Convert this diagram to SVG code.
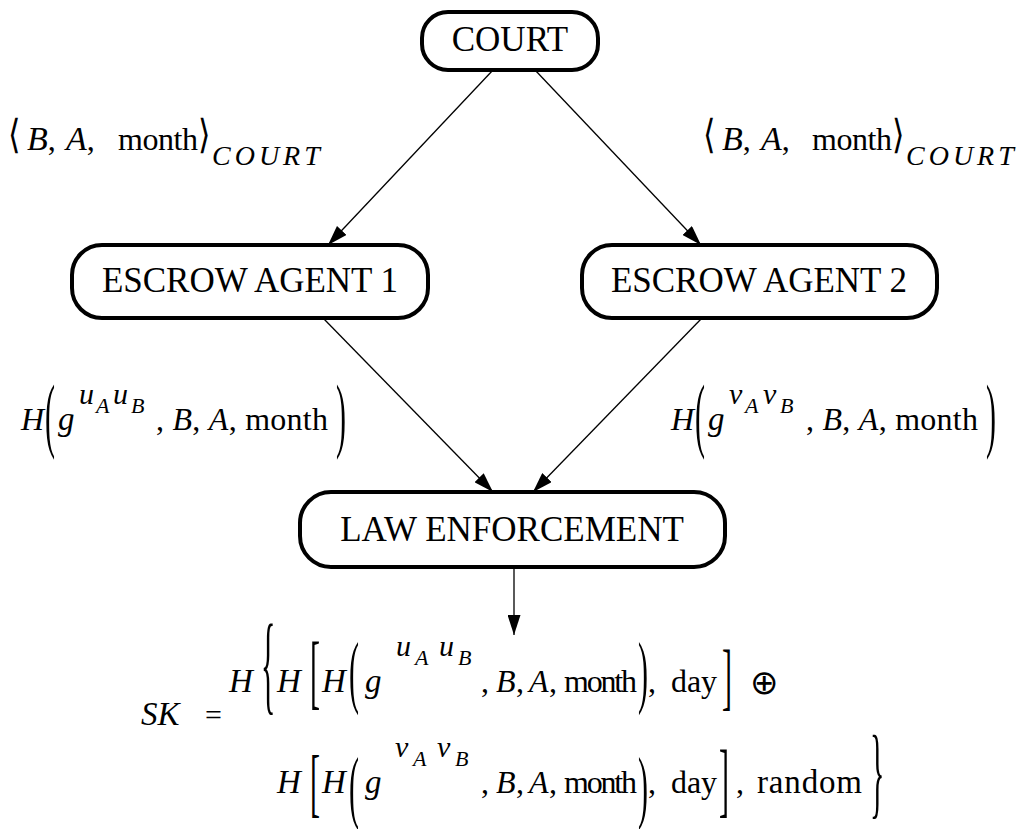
<svg xmlns="http://www.w3.org/2000/svg" width="1023" height="829" viewBox="0 0 1023 829">
  <style>
    .nd { fill: #fff; stroke: #000; stroke-width: 4; }
    .nt { font-family: "Liberation Serif", "Times New Roman", serif; font-size: 35px; text-anchor: middle; fill: #000; }
    .m { font-family: "Liberation Serif", "DejaVu Serif", serif; font-size: 32px; fill: #000; }
    .f { font-size: 33px; }
    .i { font-style: italic; }
    .sp { font-size: 30px; }
    .ss { font-size: 22px; }
    .sub { font-size: 28px; letter-spacing: 4px; }
    .dl { font-family: "Liberation Serif", serif; font-size: 30px; fill: #000; }
    .cn { stroke: #000; stroke-width: 1.3; fill: none; marker-end: url(#ah); }
  </style>
  <defs>
    <marker id="ah" viewBox="0 0 20 13" refX="20" refY="6.5" markerWidth="20" markerHeight="13" markerUnits="userSpaceOnUse" orient="auto">
      <path d="M0,0 L20,6.5 L0,13 z" fill="#000"/>
    </marker>
  </defs>
  <rect width="1023" height="829" fill="#fff"/>

  <!-- connectors -->
  <g id="connectors">
    <line class="cn" x1="493" y1="70" x2="328" y2="245"/>
    <line class="cn" x1="535" y1="70" x2="701" y2="245"/>
    <line class="cn" x1="323" y1="318" x2="493" y2="492"/>
    <line class="cn" x1="702" y1="318" x2="533" y2="492"/>
    <line class="cn" x1="514" y1="567" x2="514" y2="635"/>
  </g>

  <!-- nodes -->
  <g id="court">
    <rect class="nd" x="422" y="12" width="176" height="58" rx="26"/>
    <text class="nt" x="510" y="51">COURT</text>
  </g>
  <g id="escrow1">
    <rect class="nd" x="72" y="245" width="356" height="73" rx="30"/>
    <text class="nt" x="250" y="292">ESCROW AGENT 1</text>
  </g>
  <g id="escrow2">
    <rect class="nd" x="582" y="245" width="355" height="73" rx="30"/>
    <text class="nt" x="759" y="292">ESCROW AGENT 2</text>
  </g>
  <g id="law">
    <rect class="nd" x="300" y="492" width="425" height="75" rx="31"/>
    <text class="nt" x="512" y="541">LAW ENFORCEMENT</text>
  </g>

  <!-- edge labels: court orders -->
  <g id="label-court-1">
    <text class="dl" transform="translate(8,148) scale(1,1.25)" style="font-size:32px">⟨</text>
    <text class="m" y="150"><tspan x="27" class="i" style="font-size:34px">B</tspan>,<tspan x="66" class="i" style="font-size:34px">A</tspan>,<tspan x="118" textLength="80">month</tspan></text>
    <text class="dl" transform="translate(198,148) scale(1,1.25)" style="font-size:32px">⟩</text>
    <text class="m i sub" x="212" y="165">COURT</text>
  </g>
  <g id="label-court-2">
    <text class="dl" transform="translate(703,148) scale(1,1.25)" style="font-size:32px">⟨</text>
    <text class="m" y="150"><tspan x="722" class="i" style="font-size:34px">B</tspan>,<tspan x="761" class="i" style="font-size:34px">A</tspan>,<tspan x="812" textLength="80">month</tspan></text>
    <text class="dl" transform="translate(892,148) scale(1,1.25)" style="font-size:32px">⟩</text>
    <text class="m i sub" x="906" y="165">COURT</text>
  </g>

  <!-- edge labels: escrow hashes -->
  <g id="label-escrow-1">
    <text class="m i" x="21" y="430">H</text>
    <text class="dl" transform="translate(45,442) scale(1,2.75)">(</text>
    <text class="m i f" x="58" y="430">g</text>
    <text class="m i sp" x="79" y="404">u</text>
    <text class="m i ss" x="96" y="413">A</text>
    <text class="m i sp" x="113" y="404">u</text>
    <text class="m i ss" x="131" y="413">B</text>
    <text class="m" x="156" y="430" textLength="172" lengthAdjust="spacing">, <tspan class="i">B</tspan>, <tspan class="i">A</tspan>, month</text>
    <text class="dl" transform="translate(336,442) scale(1,2.75)">)</text>
  </g>
  <g id="label-escrow-2">
    <text class="m i" x="671" y="430">H</text>
    <text class="dl" transform="translate(695,442) scale(1,2.75)">(</text>
    <text class="m i f" x="708" y="430">g</text>
    <text class="m i sp" x="729" y="404">v</text>
    <text class="m i ss" x="745" y="413">A</text>
    <text class="m i sp" x="763" y="404">v</text>
    <text class="m i ss" x="780" y="413">B</text>
    <text class="m" x="806" y="430" textLength="172" lengthAdjust="spacing">, <tspan class="i">B</tspan>, <tspan class="i">A</tspan>, month</text>
    <text class="dl" transform="translate(986,442) scale(1,2.75)">)</text>
  </g>

  <!-- session key formula -->
  <g id="formula">
    <text class="m i f" x="141" y="725">SK</text>
    <text class="m" x="205" y="725" style="font-size:30px">=</text>
    <text class="m i f" x="229" y="692">H</text>
    <text class="dl" transform="translate(261,700) scale(1,3.7)">{</text>

    <!-- first line -->
    <text class="m i f" x="277" y="692">H</text>
    <text class="dl" transform="translate(310,699) scale(1,2.73)">[</text>
    <text class="m i f" x="322" y="692">H</text>
    <text class="dl" transform="translate(349,698) scale(1,2.68)">(</text>
    <text class="m i f" x="365" y="692">g</text>
    <text class="m i sp" x="396" y="656">u</text>
    <text class="m i ss" x="415" y="665">A</text>
    <text class="m i sp" x="439" y="656">u</text>
    <text class="m i ss" x="458" y="665">B</text>
    <text class="m" x="481" y="692">,</text>
    <text class="m i" x="496" y="692">B</text>
    <text class="m" x="516" y="692">,</text>
    <text class="m i" x="529" y="692">A</text>
    <text class="m" x="549" y="692">,</text>
    <text class="m" x="564" y="692" textLength="73">month</text>
    <text class="dl" transform="translate(638,698) scale(1,2.68)">)</text>
    <text class="m" x="648" y="692">,</text>
    <text class="m" x="671" y="692" textLength="46">day</text>
    <text class="dl" transform="translate(722,701) scale(1,2.44)">]</text>
    <text x="750" y="694" style="font-family:'DejaVu Sans',sans-serif;font-size:34px">⊕</text>

    <!-- second line -->
    <text class="m i f" x="277" y="793">H</text>
    <text class="dl" transform="translate(310,808) scale(1,2.53)">[</text>
    <text class="m i f" x="322" y="793">H</text>
    <text class="dl" transform="translate(349,813) scale(1,2.68)">(</text>
    <text class="m i f" x="365" y="793">g</text>
    <text class="m i sp" x="395" y="757">v</text>
    <text class="m i ss" x="413" y="766">A</text>
    <text class="m i sp" x="437" y="757">v</text>
    <text class="m i ss" x="455" y="766">B</text>
    <text class="m" x="481" y="793">,</text>
    <text class="m i" x="496" y="793">B</text>
    <text class="m" x="516" y="793">,</text>
    <text class="m i" x="529" y="793">A</text>
    <text class="m" x="549" y="793">,</text>
    <text class="m" x="564" y="793" textLength="73">month</text>
    <text class="dl" transform="translate(638,813) scale(1,2.68)">)</text>
    <text class="m" x="648" y="793">,</text>
    <text class="m" x="671" y="793" textLength="46">day</text>
    <text class="dl" transform="translate(719,807) scale(1,2.77)">]</text>
    <text class="m" x="736" y="793">,</text>
    <text class="m f" x="757" y="793" textLength="105">random</text>
    <text class="dl" transform="translate(870,805) scale(1,3.4)">}</text>
  </g>
</svg>
